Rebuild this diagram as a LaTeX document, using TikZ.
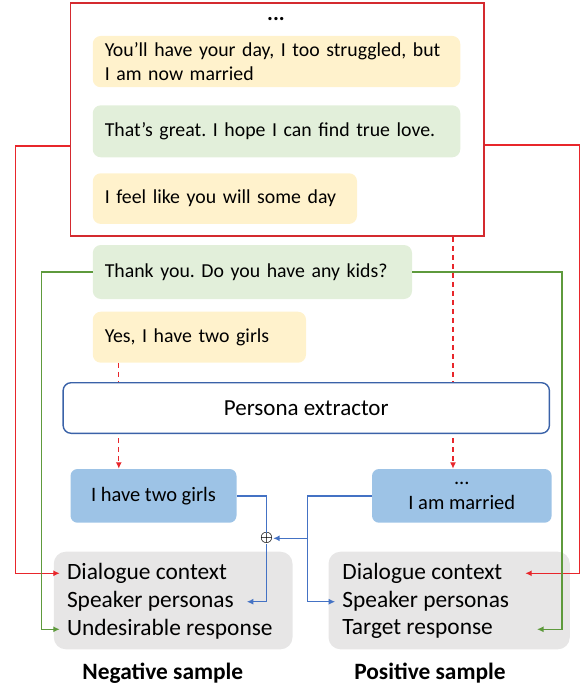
\documentclass[tikz,border=0pt]{standalone}
\usepackage{fontspec}
\setmainfont{Carlito}
\usepackage{tikz}
\usetikzlibrary{arrows.meta,positioning}
\frenchspacing

\definecolor{bubyellow}{HTML}{FFF2CC}
\definecolor{bubgreen}{HTML}{E2EFDA}
\definecolor{perblue}{HTML}{9DC3E6}
\definecolor{extblue}{HTML}{3A62A8}
\definecolor{linkblue}{HTML}{4472C4}
\definecolor{linkred}{HTML}{E8262B}
\definecolor{boxred}{HTML}{D42A2F}
\definecolor{linkgreen}{HTML}{5E9A3C}
\definecolor{samplegrey}{HTML}{E7E6E6}

\begin{document}
\begin{tikzpicture}[x=1pt, y=1pt,
        bubble/.style={rectangle, rounded corners=8pt, inner xsep=12pt, align=left, font=\fontsize{19.8}{24}\selectfont},
        persona/.style={rectangle, rounded corners=7pt, fill=perblue, align=center, font=\fontsize{20.5}{25}\selectfont},
        sample/.style={rectangle, rounded corners=12pt, fill=samplegrey, minimum height=97.6pt},
        item/.style={anchor=west, inner xsep=7pt, inner ysep=1pt, font=\fontsize{23.4}{27}\selectfont},
        redline/.style={draw=linkred, line width=1.4pt},
        greenline/.style={draw=linkgreen, line width=1.4pt},
        blueline/.style={draw=linkblue, line width=1.4pt},
        reddash/.style={draw=linkred, line width=1.3pt, dash pattern=on 5pt off 4pt},
        tip/.style={-{Latex[length=6.5pt,width=6pt]}}
    ]
        \useasboundingbox (0,0) rectangle (582,-687);

        % Dialogue context window
        \node[draw=boxred, line width=1.8pt, minimum width=413.2pt, minimum height=232.7pt] (ctx) at (277.1,-119.65) {};
        \node[font=\bfseries\fontsize{22}{22}\selectfont, inner sep=0pt] (dots) at (276,-19) {...};
        \node[bubble, fill=bubyellow, text width=343.5pt, minimum height=51.3pt] (b1) at (276.5,-61.6) {You'll have your day, I too struggled, but\\I am now married};
        \node[bubble, fill=bubgreen, text width=343.5pt, minimum height=52pt] (b2) at (276.5,-131.3) {That's great. I hope I can find true love.};
        \node[bubble, fill=bubyellow, text width=240.2pt, minimum height=50.7pt] (b3) at (224.9,-198.6) {I feel like you will some day};

        % Turns outside the window
        \node[bubble, fill=bubgreen, text width=295.2pt, minimum height=54pt] (b4) at (252.4,-272) {Thank you. Do you have any kids?};
        \node[bubble, fill=bubyellow, text width=189.2pt, minimum height=51pt] (b5) at (199.4,-337.2) {Yes, I have two girls};

        % Extractor
        \node[draw=extblue, line width=1.4pt, fill=white, rounded corners=8pt, minimum width=486.3pt, minimum height=50.6pt, font=\fontsize{23}{27}\selectfont] (ext) at (306.25,-408) {Persona extractor};

        % Extracted personas
        \node[persona, minimum width=166pt, minimum height=53.7pt] (gl) at (153.5,-495.85) {I have two girls};
        \node[persona, minimum width=179.6pt, minimum height=53.7pt] (gr) at (461.8,-495.85) {...\\I am married};
        \node[inner sep=0pt, font=\fontsize{15}{15}\selectfont\boldmath] (plus) at (266.5,-538.3) {$\oplus$};

        % Negative sample
        \node[sample, minimum width=238.7pt] (neg) at (173.15,-600.5) {};
        \node[item] (nd) at (59.8,-573.3) {Dialogue context};
        \node[item] (ns) at (59.8,-601.7) {Speaker personas};
        \node[item] (nu) at (59.8,-629.3) {Undesirable response};
        \node[font=\bfseries\fontsize{23.4}{27}\selectfont] (lneg) at (162.8,-673.3) {Negative sample};

        % Positive sample
        \node[sample, minimum width=241.3pt] (pos) at (449.15,-600.5) {};
        \node[item] (pd) at (335.2,-573.3) {Dialogue context};
        \node[item] (ps) at (335.2,-601.7) {Speaker personas};
        \node[item] (pt) at (335.2,-629.3) {Target response};
        \node[font=\bfseries\fontsize{23.4}{27}\selectfont] (lpos) at (430,-673.3) {Positive sample};

        % Free ends of connectors
        \coordinate (rin) at (525.2,-573.3);
        \coordinate (gin) at (537,-629.3);
        \coordinate (bin) at (246.8,-601.7);
        \coordinate (bj) at (307.3,-538.3);
        \coordinate (d1) at ([xshift=-80.6pt]b5.south);
        \coordinate (d2) at ([xshift=175.9pt]ctx.south);

        % Context connectors
        \draw[redline, tip] ([yshift=-26.4pt]ctx.west) -| (15.6,-400) |- (nd.west);
        \draw[redline, tip] ([yshift=-25.4pt]ctx.east) -| (579.5,-400) |- (rin);

        % Response connectors
        \draw[greenline, tip] (b4.west) -| (41.6,-450) |- (nu.west);
        \draw[greenline, tip] (b4.east) -| (562,-450) |- (gin);

        % Extraction
        \draw[reddash] (d1) -- (d1 |- ext.north);
        \draw[reddash, tip] ([yshift=-4pt]d1 |- ext.south) -- (d1 |- gl.north);
        \draw[reddash] (d2) -- (d2 |- ext.north);
        \draw[reddash, tip] ([yshift=-4pt]d2 |- ext.south) -- (d2 |- gr.north);

        % Persona connectors
        \draw[blueline] (gl.east) -| (plus.north);
        \draw[blueline, tip] (plus.south) |- (bin);
        \draw[blueline, tip] (gr.west) -| (bj) |- (ps.west);
        \draw[blueline, tip] (bj) -- (plus.east);
    \end{tikzpicture}
\end{document}
